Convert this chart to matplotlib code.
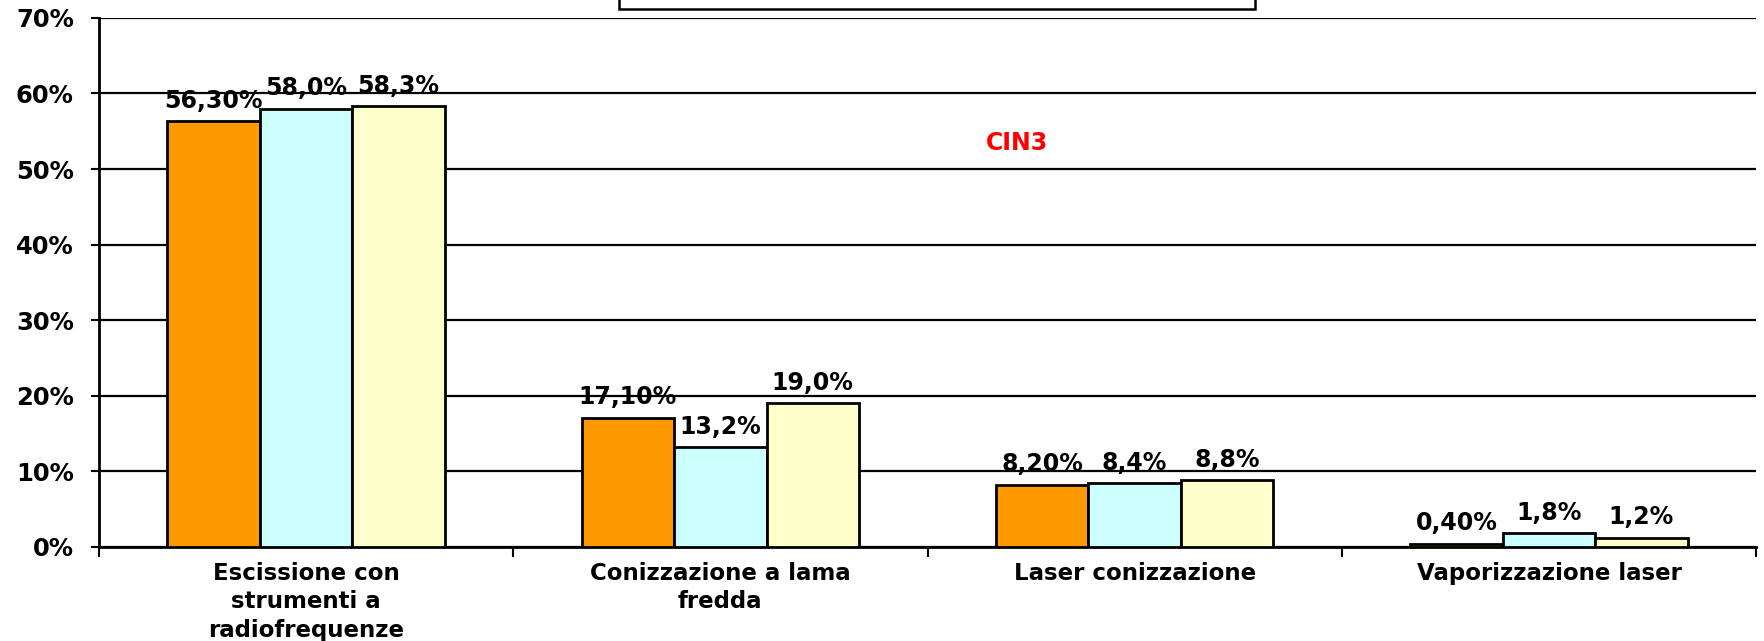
import matplotlib
matplotlib.use("Agg")
import matplotlib.pyplot as plt
import numpy as np
from matplotlib.patches import Rectangle
from matplotlib.ticker import FixedLocator, PercentFormatter

categories = ["Escissione con\nstrumenti a\nradiofrequenze",
              "Conizzazione a lama\nfredda",
              "Laser conizzazione",
              "Vaporizzazione laser"]
series_a = [56.3, 17.1, 8.2, 0.4]
series_b = [58.0, 13.2, 8.4, 1.8]
series_c = [58.3, 19.0, 8.8, 1.2]
labels_a = ["56,30%", "17,10%", "8,20%", "0,40%"]
labels_b = ["58,0%", "13,2%", "8,4%", "1,8%"]
labels_c = ["58,3%", "19,0%", "8,8%", "1,2%"]
colors = ["#FF9900", "#CCFFFF", "#FFFFCC"]

# wide bold face, closer to the stretched look of the original
plt.rcParams["font.family"] = ["DejaVu Sans"]
plt.rcParams["font.weight"] = "bold"

fig = plt.figure(figsize=(17.65, 6.41), dpi=100)
ax = fig.add_axes([0.056, 0.147, 0.939, 0.825])

x = np.arange(len(categories))
w = 0.223
for i, (vals, labs) in enumerate([(series_a, labels_a), (series_b, labels_b), (series_c, labels_c)]):
    pos = x + (i - 1) * w
    ax.bar(pos, vals, width=w, color=colors[i], edgecolor="black", linewidth=2, zorder=3)
    for px, v, lab in zip(pos, vals, labs):
        ax.annotate(lab, (px, v), xytext=(0, 6), textcoords="offset points",
                    ha="center", va="bottom", fontsize=17, fontweight="bold", zorder=4)

ax.set_xlim(-0.5, len(categories) - 0.5)
ax.set_ylim(0, 70)
ax.yaxis.set_major_locator(FixedLocator(np.arange(0, 71, 10)))
ax.yaxis.set_major_formatter(PercentFormatter(decimals=0))
ax.grid(axis="y", color="black", linewidth=1.6, zorder=0)

ax.set_xticks(x)
ax.set_xticklabels(categories, fontsize=16.5, fontweight="bold", linespacing=1.3)
ax.xaxis.set_minor_locator(FixedLocator(np.arange(-0.5, len(categories), 1.0)))
ax.tick_params(axis="x", which="major", length=0, pad=11)
ax.tick_params(axis="x", which="minor", length=7, width=1.5, direction="out")
ax.tick_params(axis="y", length=6, width=1.5, direction="out", labelsize=17.5, pad=12)
for t in ax.get_yticklabels():
    t.set_fontweight("bold")

for s in ["top", "right"]:
    ax.spines[s].set_visible(False)
ax.spines["left"].set_linewidth(2)
ax.spines["bottom"].set_linewidth(2)

ax.text(0.554, 53.5, "CIN3", transform=ax.get_yaxis_transform(), color="red",
        fontsize=17, fontweight="bold", ha="center", va="center")

# legend frame, cut off by the top edge of the picture
fig.patches.append(Rectangle((619 / 1765, (641 - 9) / 641), (1255 - 619) / 1765, 0.1,
                             transform=fig.transFigure, facecolor="white",
                             edgecolor="black", linewidth=1.8))

fig.savefig("out.png", dpi=100)
